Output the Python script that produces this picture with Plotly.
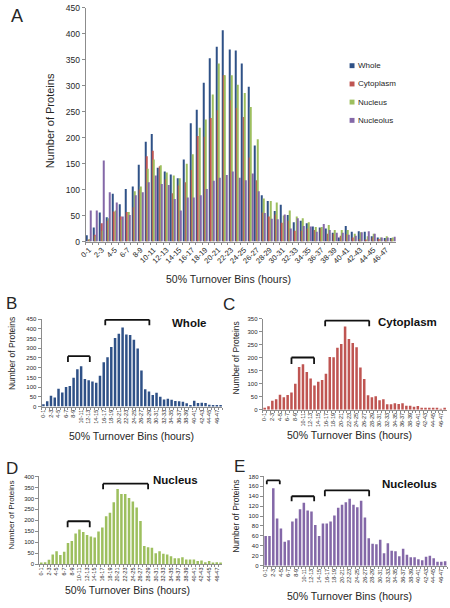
import plotly.graph_objects as go

# ---------------- data ----------------
bins = ["0-1", "1-2", "2-3", "3-4", "4-5", "5-6", "6-7", "7-8", "8-9", "9-10",
        "10-11", "11-12", "12-13", "13-14", "14-15", "15-16", "16-17", "17-18",
        "18-19", "19-20", "20-21", "21-22", "22-23", "23-24", "24-25", "25-26",
        "26-27", "27-28", "28-29", "29-30", "30-31", "31-32", "32-33", "33-34",
        "34-35", "35-36", "36-37", "37-38", "38-39", "39-40", "40-41", "41-42",
        "42-43", "43-44", "44-45", "45-46", "46-47", "47-48"]
shown_labels = ["0-1", "2-3", "4-5", "6-7", "8-9", "10-11", "12-13", "14-15",
                "16-17", "18-19", "20-21", "22-23", "24-25", "26-27", "28-29",
                "30-31", "32-33", "34-35", "36-37", "38-39", "40-41", "42-43",
                "44-45", "46-47"]

whole = [12, 27, 56, 47, 92, 72, 101, 106, 148, 192,
         207, 142, 135, 129, 122, 158, 228, 254, 306, 353,
         375, 407, 370, 368, 343, 298, 185, 89, 78, 59,
         71, 51, 37, 40, 35, 29, 27, 25, 17, 8,
         30, 19, 20, 19, 10, 8, 7, 7]
cytoplasm = [4, 13, 35, 40, 58, 48, 57, 66, 100, 164,
             175, 145, 120, 93, 108, 114, 138, 203, 202, 238,
             253, 320, 272, 257, 240, 162, 118, 56, 48, 52,
             36, 40, 21, 21, 25, 22, 25, 15, 15, 11,
             14, 8, 5, 4, 8, 5, 3, 5]
nucleus = [5, 10, 21, 45, 60, 42, 57, 97, 106, 140,
           158, 147, 133, 127, 122, 150, 168, 219, 235, 283,
           343, 320, 320, 302, 286, 259, 197, 83, 78, 75,
           50, 60, 48, 45, 37, 28, 28, 32, 22, 22,
           22, 15, 18, 10, 15, 8, 10, 8]
nucleolus = [60, 60, 156, 95, 75, 48, 51, 89, 95, 114,
             127, 111, 109, 82, 60, 85, 85, 89, 101, 117,
             123, 128, 135, 123, 118, 131, 97, 55, 44, 43,
             52, 25, 45, 30, 29, 19, 34, 22, 17, 17,
             13, 11, 18, 20, 15, 8, 8, 9]

series_names = ["Whole", "Cytoplasm", "Nucleus", "Nucleolus"]
series_values = [whole, cytoplasm, nucleus, nucleolus]
colors = ["#2F5187", "#BF5552", "#9DBF5E", "#8468A8"]

# ---------------- layout helpers ----------------
W, H = 450, 608
FONT = "Liberation Sans, Arial, sans-serif"
TXT = "#262626"
AXC = "#8C8C8C"


def px(x):
    return x / W


def py(y):
    return 1 - y / H


ticktext = [b if b in shown_labels else "" for b in bins]

fig = go.Figure()

# Panel A: grouped bars
for name, vals, col in zip(series_names, series_values, colors):
    fig.add_trace(go.Bar(x=bins, y=vals, name=name, showlegend=False,
                         marker=dict(color=col, line=dict(width=0)),
                         xaxis="x", yaxis="y"))

# Panels B-E
panel_axes = [("x2", "y2"), ("x3", "y3"), ("x4", "y4"), ("x5", "y5")]
for (xa, ya), name, vals, col in zip(panel_axes, series_names, series_values, colors):
    fig.add_trace(go.Bar(x=bins, y=vals, name=name, showlegend=False,
                         marker=dict(color=col, line=dict(width=0)),
                         xaxis=xa, yaxis=ya))


def xaxis_cfg(dom, anchor, angle, fsize):
    return dict(domain=[px(dom[0]), px(dom[1])], anchor=anchor, type="category",
                range=[-0.5, 47.5], tickmode="array", tickvals=bins, ticktext=ticktext,
                tickangle=angle, tickfont=dict(size=fsize, color=TXT, family=FONT),
                showline=True, linecolor=AXC, linewidth=1, ticks="outside", ticklen=2,
                tickcolor=AXC, tickson="boundaries", showgrid=False, zeroline=False,
                fixedrange=True)


def yaxis_cfg(dom, anchor, rng, dtick, fsize):
    return dict(domain=[py(dom[0]), py(dom[1])], anchor=anchor, range=rng, dtick=dtick,
                tick0=0, tickfont=dict(size=fsize, color=TXT, family=FONT),
                showline=True, linecolor=AXC, linewidth=1, ticks="outside", ticklen=3,
                tickcolor=AXC, showgrid=False, zeroline=False, fixedrange=True)


fig.update_layout(
    width=W, height=H, margin=dict(l=0, r=0, t=0, b=0),
    paper_bgcolor="white", plot_bgcolor="white",
    barmode="group", bargap=0.25, bargroupgap=0.12,
    font=dict(family=FONT, color=TXT),
    showlegend=False,
    xaxis=xaxis_cfg((80, 395), "y", -45, 7.5),
    yaxis=yaxis_cfg((240.5, 2.9), "x", [0, 450], 50, 8.5),
    xaxis2=xaxis_cfg((35.1, 218.9), "y2", -90, 5.5),
    yaxis2=yaxis_cfg((408.3, 319.3), "x2", [0, 450], 50, 6),
    xaxis3=xaxis_cfg((259.8, 446.5), "y3", -90, 5.5),
    yaxis3=yaxis_cfg((411.5, 319.0), "x3", [0, 350], 50, 6),
    xaxis4=xaxis_cfg((32.9, 218.9), "y4", -90, 5.5),
    yaxis4=yaxis_cfg((568.7, 479.3), "x4", [0, 400], 50, 6),
    xaxis5=xaxis_cfg((260.8, 447.0), "y5", -90, 5.5),
    yaxis5=yaxis_cfg((570.0, 479.3), "x5", [0, 180], 20, 6),
)

# Legend of panel A (drawn as key squares + text)
legend_rows_y = [61.7, 80.3, 98.7, 117.3]
for name, col, ly in zip(series_names, colors, legend_rows_y):
    fig.add_shape(type="rect", xref="paper", yref="paper",
                  x0=px(348), x1=px(353), y0=py(ly + 2.5), y1=py(ly - 2.5),
                  fillcolor=col, line=dict(width=0))
    fig.add_annotation(text=name, x=px(355), y=py(ly), xref="paper", yref="paper",
                       showarrow=False, xanchor="left", yanchor="middle",
                       font=dict(size=8, family=FONT, color=TXT))

# Brackets (start index, end index, top value, leg value) per panel
brackets = {
    ("x2", "y2"): [(6.5, 12.3, 259, 229), (16.4, 28.1, 446, 418)],
    ("x3", "y3"): [(7.0, 12.9, 201, 176), (15.8, 27.3, 343, 321)],
    ("x4", "y4"): [(6.9, 12.7, 196, 169), (16.2, 28.0, 367, 342)],
    ("x5", "y5"): [(0.3, 3.7, 172, 164), (6.8, 12.7, 140, 130), (15.5, 27.1, 152, 140)],
}
for (xa, ya), lst in brackets.items():
    for x0, x1, yt, yl in lst:
        ln = dict(color="#111111", width=1.8)
        fig.add_shape(type="line", xref=xa, yref=ya, x0=x0, x1=x1, y0=yt, y1=yt, line=ln)
        fig.add_shape(type="line", xref=xa, yref=ya, x0=x0, x1=x0, y0=yt, y1=yl, line=ln)
        fig.add_shape(type="line", xref=xa, yref=ya, x0=x1, x1=x1, y0=yt, y1=yl, line=ln)


def note(text, x, y, size, bold=False, angle=0):
    fig.add_annotation(text=f"<b>{text}</b>" if bold else text, x=px(x), y=py(y),
                       xref="paper", yref="paper", showarrow=False, textangle=angle,
                       xanchor="center", yanchor="middle",
                       font=dict(size=size, family=FONT, color="#111111" if bold else TXT))


# Panel letters
note("A", 10, 11, 18)
note("B", 5, 303, 17)
note("C", 226, 305, 17)
note("D", 5, 471, 17)
note("E", 236, 469, 17)

# Panel titles
note("Whole", 185, 323, 11.5, bold=True)
note("Cytoplasm", 407, 322, 11.5, bold=True)
note("Nucleus", 171, 483, 11.5, bold=True)
note("Nucleolus", 409, 487, 11.5, bold=True)

# Axis titles
note("50% Turnover Bins (hours)", 225, 279, 10.5)
note("50% Turnover Bins (hours)", 126, 438, 10.5)
note("50% Turnover Bins (hours)", 348, 437, 10.5)
note("50% Turnover Bins (hours)", 122, 595, 10.5)
note("50% Turnover Bins (hours)", 348, 601, 10.5)
note("Number of Proteins", 44, 118, 11, angle=-90)
note("Number of Proteins", 5, 354, 8.5, angle=-90)
note("Number of Proteins", 233, 359, 8.5, angle=-90)
note("Number of Proteins", 5, 518, 8, angle=-90)
note("Number of Proteins", 233, 520, 8.5, angle=-90)

fig.write_html("out.html", config={"displayModeBar": False},
               post_script="document.body.style.margin='0';document.body.style.overflow='hidden';")
